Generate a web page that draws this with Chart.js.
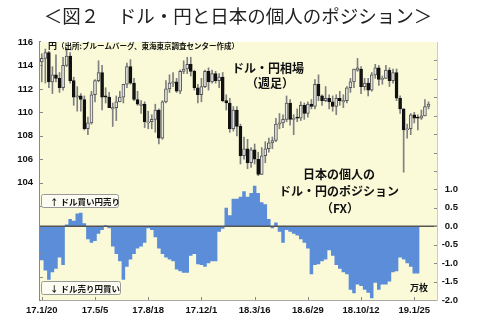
<!DOCTYPE html>
<html>
<head>
<meta charset="utf-8">
<script src="https://cdn.jsdelivr.net/npm/chart.js@4/dist/chart.umd.min.js"></script>
<style>
  html, body { margin: 0; padding: 0; background: #fff; }
</style>
</head>
<body>
<canvas id="chart" width="480" height="325"></canvas>
<script>
// x tick labels (every 15 weeks, starting 17.1/20)
const tickWeeks = [0, 15, 30, 45, 60, 75, 90, 105];
const tickLabels = ['17.1/20', '17.5/5', '17.8/18', '17.12/1', '18.3/16', '18.6/29', '18.10/12', '19.1/25'];

// weekly USD/JPY candles (week index 0 = 17.1/20)
const opens = [
  114.3, 114.6, 115.1, 112.6, 113.2, 112.9, 112.1, 114.0, 114.8, 112.7,
  111.3, 111.4, 111.1, 108.6, 109.1, 111.5, 112.7, 113.4, 111.4, 111.3,
  110.3, 110.4, 110.9, 111.3, 112.4, 113.9, 112.5, 111.1, 110.6, 110.7,
  109.1, 109.2, 109.4, 110.2, 107.8, 110.9, 112.0, 112.5, 112.6, 111.8,
  113.5, 113.7, 114.1, 113.5, 112.1, 111.5, 112.2, 113.5, 112.6, 113.3,
  112.7, 113.0, 111.0, 110.8, 108.6, 110.2, 108.8, 106.3, 106.9, 105.7,
  106.8, 106.0, 104.7, 106.3, 106.9, 107.4, 107.6, 109.0, 109.1, 109.4,
  110.8, 109.4, 109.6, 109.5, 110.6, 109.9, 110.7, 110.5, 112.4, 111.4,
  111.0, 111.2, 110.9, 110.5, 111.2, 110.9, 111.0, 112.1, 112.6, 113.6,
  113.7, 112.2, 112.5, 111.9, 113.2, 113.8, 112.8, 112.9, 113.6, 112.7,
  113.4, 111.2, 110.3, 108.5, 108.6, 109.8, 109.6, 109.5, 109.7, 110.5
];
const highs = [
  115.0, 115.4, 115.2, 113.9, 114.9, 113.4, 114.7, 115.5, 115.1, 113.0,
  112.2, 111.6, 111.4, 109.6, 111.8, 112.8, 114.4, 114.0, 112.1, 111.7,
  110.8, 111.4, 111.8, 112.4, 114.2, 114.5, 112.9, 111.8, 111.0, 110.9,
  110.1, 109.8, 110.7, 110.3, 111.0, 112.7, 113.2, 113.4, 112.9, 113.6,
  114.4, 114.7, 114.7, 113.6, 112.4, 112.9, 113.6, 113.8, 113.6, 113.5,
  113.3, 113.4, 111.5, 111.2, 110.5, 110.5, 109.0, 107.9, 107.7, 107.0,
  107.3, 106.6, 107.0, 107.5, 107.8, 107.9, 109.5, 109.9, 109.8, 111.4,
  111.1, 109.8, 110.3, 110.9, 110.8, 110.9, 111.1, 112.8, 113.2, 111.5,
  112.2, 111.5, 111.4, 111.5, 111.8, 111.5, 112.2, 112.9, 113.7, 114.6,
  113.9, 112.9, 112.9, 113.4, 114.1, 114.0, 113.1, 114.0, 113.8, 113.7,
  113.7, 111.4, 110.3, 109.0, 109.9, 110.0, 109.8, 110.2, 111.1, 110.9
];
const lows = [
  112.6, 112.5, 112.1, 111.6, 112.6, 111.7, 111.9, 113.9, 112.5, 110.6,
  110.1, 110.1, 108.5, 108.1, 109.0, 110.9, 112.6, 110.2, 110.8, 110.4,
  108.8, 109.3, 110.9, 110.8, 112.1, 112.4, 111.0, 110.6, 109.9, 108.7,
  108.6, 108.6, 108.3, 107.3, 107.7, 110.8, 111.7, 112.2, 111.7, 111.6,
  113.3, 113.3, 113.1, 111.9, 110.8, 110.9, 112.1, 111.9, 112.5, 112.5,
  112.1, 110.9, 110.2, 108.3, 108.4, 108.0, 105.6, 106.0, 105.2, 105.3,
  105.6, 104.6, 104.7, 105.7, 106.6, 106.9, 107.5, 108.6, 108.7, 109.2,
  108.9, 108.1, 109.2, 109.3, 109.4, 109.6, 110.3, 110.3, 111.0, 110.6,
  110.9, 110.3, 110.1, 109.8, 110.6, 110.4, 110.8, 111.7, 112.1, 113.5,
  111.6, 111.9, 111.4, 111.8, 112.9, 112.3, 112.4, 112.9, 112.2, 112.5,
  111.0, 109.9, 104.9, 107.8, 108.1, 109.1, 108.5, 109.4, 109.7, 110.3
];
const closes = [
  114.6, 115.1, 112.6, 113.2, 112.9, 112.1, 114.0, 114.8, 112.7, 111.3,
  111.4, 111.1, 108.6, 109.1, 111.5, 112.7, 113.4, 111.3, 111.3, 110.4,
  110.4, 110.9, 111.3, 112.4, 113.9, 112.5, 111.1, 110.7, 110.7, 109.2,
  109.2, 109.4, 110.2, 107.8, 110.9, 112.0, 112.5, 112.6, 111.8, 113.5,
  113.7, 114.1, 113.5, 112.1, 111.5, 112.2, 113.5, 112.6, 113.3, 112.7,
  113.0, 111.0, 110.8, 108.6, 110.2, 108.8, 106.3, 106.9, 105.7, 106.8,
  106.0, 104.7, 106.3, 106.9, 107.4, 107.6, 109.0, 109.1, 109.4, 110.8,
  109.4, 109.5, 109.5, 110.6, 109.9, 110.7, 110.5, 112.4, 111.4, 111.0,
  111.2, 110.9, 110.5, 111.2, 111.0, 111.0, 112.1, 112.6, 113.7, 113.8,
  112.2, 112.5, 111.9, 113.2, 113.8, 112.8, 112.9, 113.6, 112.7, 113.4,
  111.2, 110.3, 108.5, 108.6, 109.8, 109.5, 109.5, 109.7, 110.5, 110.7
];

// Japanese retail FX USD/JPY net position (10k contracts)
const positions = [
  -1.35, -0.92, -1.20, -1.45, -1.25, -1.15, -0.85, -1.05, 0.05, 0.20,
  0.15, 0.35, 0.37, 0.08, -0.35, -0.45, -0.40, -0.20, -0.10, 0.03,
  -0.05, -0.55, -0.75, -0.95, -1.45, -1.10, -0.90, -0.75, -0.60, -0.55,
  -0.45, -0.05, -0.10, -0.30, -0.60, -0.75, -0.85, -0.90, -0.95, -1.17,
  -1.22, -1.26, -1.26, -0.80, -0.75, -1.03, -1.05, -1.10, -1.00, -0.95,
  -0.95, -0.15, -0.07, 0.50, 0.30, 0.75, 0.75, 0.80, 0.95, 0.80,
  0.90, 1.10, 0.90, 0.65, 0.60, 0.20, -0.05, 0.10, -0.15, -0.45,
  -0.10, -0.15, -0.20, -0.25, -0.35, -0.45, -0.60, -1.30, -1.05, -1.03,
  -0.95, -0.90, -0.65, -0.80, -1.05, -1.15, -1.25, -1.30, -1.72, -1.82,
  -1.58, -1.62, -1.72, -1.80, -1.95, -1.53, -1.72, -1.58, -1.58, -1.50,
  -1.25, -1.22, -0.85, -0.90, -1.00, -1.10, -1.28
];

const leftTicks = [104, 106, 108, 110, 112, 114, 116];
const rightTicks = [-2.0, -1.5, -1.0, -0.5, 0.0, 0.5, 1.0];

const tickFont = { family: 'Liberation Sans', size: 9.5, weight: 'bold' };
const jp = '"Noto Sans CJK JP"';

// background of the plot area, zero line, inward ticks and notes
const decor = {
  id: 'decor',
  beforeDatasetsDraw(chart) {
    const { ctx, chartArea: a } = chart;
    ctx.save();
    ctx.fillStyle = '#FAFAD9';
    ctx.fillRect(a.left, a.top, a.right - a.left, a.bottom - a.top);
    ctx.restore();
  },
  afterDatasetsDraw(chart) {
    const { ctx, chartArea: a, scales } = chart;
    ctx.save();

    // zero line of the position axis
    const y0 = scales.y2.getPixelForValue(0);
    ctx.strokeStyle = '#555';
    ctx.lineWidth = 1.5;
    ctx.beginPath();
    ctx.moveTo(a.left, y0);
    ctx.lineTo(a.right, y0);
    ctx.stroke();

    // small inward tick marks
    ctx.strokeStyle = '#888';
    ctx.lineWidth = 1;
    ctx.beginPath();
    for (let v = 96; v <= 114; v += 2) {
      const y = Math.round(scales.y.getPixelForValue(v)) + 0.5;
      ctx.moveTo(a.left, y); ctx.lineTo(a.left + 3, y);
    }
    for (let v = -1.5; v <= 4.5; v += 0.5) {
      const y = Math.round(scales.y2.getPixelForValue(v)) + 0.5;
      ctx.moveTo(a.right, y); ctx.lineTo(a.right - 3, y);
    }
    tickWeeks.forEach(w => {
      const x = Math.round(scales.x.getPixelForValue(w)) + 0.5;
      ctx.moveTo(x, a.bottom); ctx.lineTo(x, a.bottom - 3);
    });
    ctx.stroke();

    // title
    ctx.fillStyle = '#222';
    ctx.textAlign = 'center';
    ctx.textBaseline = 'middle';
    ctx.font = '18.5px ' + jp;
    ctx.fillText('＜図２　ドル・円と日本の個人のポジション＞', 238, 16);

    // source note
    ctx.fillStyle = '#111';
    ctx.textAlign = 'left';
    ctx.font = 'bold 9px ' + jp;
    ctx.fillText('円', a.left + 8, a.top + 4);
    ctx.font = 'bold 7.5px ' + jp;
    ctx.fillText('（出所:ブルームバーグ、東海東京調査センター作成）', a.left + 17, a.top + 4);

    // series captions
    ctx.textAlign = 'center';
    ctx.font = 'bold 12px ' + jp;
    ctx.fillText('ドル・円相場', 268, 68);
    ctx.fillText('（週足）', 270, 83);
    ctx.fillText('日本の個人の', 339, 174);
    ctx.fillText('ドル・円のポジション', 339, 191);
    ctx.fillText('（FX）', 340, 208);

    ctx.font = 'bold 9px ' + jp;
    ctx.fillText('万枚', 419, 288);

    // direction boxes
    const box = (x, y, w, h, text) => {
      ctx.fillStyle = '#FCFCF2';
      ctx.strokeStyle = '#999';
      ctx.lineWidth = 1;
      ctx.beginPath();
      ctx.roundRect(x + 0.5, y + 0.5, w, h, 2);
      ctx.fill();
      ctx.stroke();
      ctx.fillStyle = '#111';
      ctx.textAlign = 'left';
      ctx.font = 'bold 8.5px ' + jp;
      ctx.fillText(text, x + 9, y + h / 2 + 1);
    };
    box(a.left + 1, 194, 77, 13, '↑ ドル買い円売り');
    box(a.left + 1, 281, 79, 13, '↓ ドル売り円買い');

    ctx.restore();
  }
};

const bodies = opens.map((o, i) => ({ x: i, y: [o, closes[i]] }));
const wicks = lows.map((l, i) => ({ x: i, y: [l, highs[i]] }));
// weekly position steps: each value holds from week-0.5 to week+0.5
const posSteps = positions.map((v, i) => ({ x: i - 0.5, y: v }));
posSteps.push({ x: positions.length - 0.5, y: positions[positions.length - 1] });

const isUp = ctx => {
  const i = ctx.dataIndex;
  return closes[i] >= opens[i];
};

new Chart(document.getElementById('chart'), {
  type: 'bar',
  data: {
    datasets: [
      {
        label: 'body',
        data: bodies,
        yAxisID: 'y',
        grouped: false,
        barThickness: 3,
        borderWidth: 1,
        borderSkipped: false,
        backgroundColor: ctx => isUp(ctx) ? '#E4E4E4' : '#111',
        borderColor: ctx => isUp(ctx) ? '#555' : '#111',
        order: 0
      },
      {
        label: 'wick',
        data: wicks,
        yAxisID: 'y',
        grouped: false,
        barThickness: 1,
        backgroundColor: '#808080',
        order: 1
      },
      {
        type: 'line',
        label: 'position',
        data: posSteps,
        yAxisID: 'y2',
        stepped: 'after',
        fill: 'origin',
        borderWidth: 0,
        pointRadius: 0,
        borderColor: 'rgba(0,0,0,0)',
        backgroundColor: '#5B8DD8',
        order: 2
      }
    ]
  },
  options: {
    responsive: false,
    animation: false,
    devicePixelRatio: 1,
    layout: { padding: { top: 42, right: 22, left: 0, bottom: 0 } },
    plugins: {
      legend: { display: false },
      tooltip: { enabled: false }
    },
    scales: {
      x: {
        type: 'linear',
        offset: false,
        min: -0.5,
        max: 111.4,
        grid: { display: false, drawTicks: false },
        border: { color: '#555', width: 1.5 },
        afterBuildTicks: s => { s.ticks = tickWeeks.map(v => ({ value: v })); },
        afterFit: s => { s.height = 25; },
        ticks: {
          padding: 5,
          maxRotation: 0,
          autoSkip: false,
          color: '#111',
          font: tickFont,
          callback: v => tickLabels[tickWeeks.indexOf(v)]
        }
      },
      y: {
        position: 'left',
        min: 94,
        max: 116,
        beginAtZero: false,
        grid: { display: false, drawTicks: false },
        border: { color: '#888', width: 2 },
        afterBuildTicks: s => { s.ticks = leftTicks.map(v => ({ value: v })); },
        afterFit: s => { s.width = 40; },
        ticks: { padding: 7, color: '#111', font: tickFont }
      },
      y2: {
        position: 'right',
        min: -2,
        max: 5,
        beginAtZero: false,
        grid: { display: false, drawTicks: false },
        border: { color: '#ccc', width: 1 },
        afterBuildTicks: s => { s.ticks = rightTicks.map(v => ({ value: v })); },
        afterFit: s => { s.width = 21; },
        ticks: {
          crossAlign: 'far',
          color: '#111',
          font: tickFont,
          callback: v => v.toFixed(1)
        }
      }
    }
  },
  plugins: [decor]
});
</script>
</body>
</html>
